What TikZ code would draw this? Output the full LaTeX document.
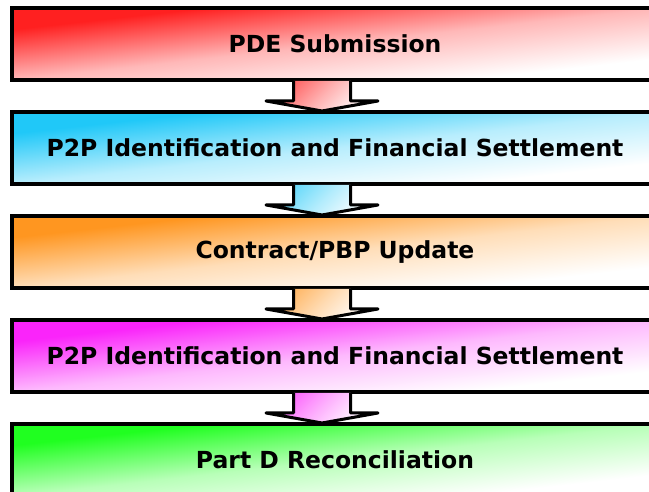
\documentclass[tikz,border=0pt]{standalone}
\usepackage{fontspec}
\newfontfamily\stagefont{DejaVu Sans}
\usetikzlibrary{calc,positioning,backgrounds}

\definecolor{pdered}{RGB}{255,32,32}
\definecolor{ppablue}{RGB}{32,200,248}
\definecolor{pbporange}{RGB}{255,150,32}
\definecolor{ppbmagenta}{RGB}{250,36,250}
\definecolor{recongreen}{RGB}{32,255,32}

\tikzset{
  stage/.style={draw=black, line width=4pt, minimum width=646pt, minimum height=72pt,
    inner sep=0pt, font=\stagefont\bfseries\fontsize{23.5}{28}\selectfont},
  stagefill/.style={shading=axis, top color=#1, bottom color=white,
    middle color=#1!32!white, shading angle=45},
  flow/.style={draw=black, line width=3pt, line join=round,
    shading=axis, top color=#1!75!white, bottom color=white,
    middle color=#1!35!white, shading angle=45},
}

\begin{document}
\begin{tikzpicture}[x=1pt, y=1pt, node distance=28pt]
    \useasboundingbox (0,0) rectangle (649,492);
    % Trin i processen
    \node[stage] (pde) at (335,448) {PDE Submission};
    \node[stage, below=of pde] (ppa) {P2P Identification and Financial Settlement};
    \node[stage, below=of ppa] (pbp) {Contract/PBP Update};
    \node[stage, below=of pbp] (ppb) {P2P Identification and Financial Settlement};
    \node[stage, below=of ppb] (recon) {Part D Reconciliation};
    % Farveforloeb bag trinene (strakt diagonalt)
    \begin{scope}[on background layer]
      \foreach \n/\col in {pde/pdered,ppa/ppablue,pbp/pbporange,ppb/ppbmagenta,recon/recongreen} {
        \begin{scope}[transform canvas={shift={(\n.center)}, xscale=646/72}]
          \shade[stagefill=\col] (-36,-36) rectangle (36,36);
        \end{scope}
      }
    \end{scope}
    % Blokpile mellem trinene
    \foreach \a/\b/\col in {pde/ppa/pdered,ppa/pbp/ppablue,pbp/ppb/pbporange,ppb/recon/ppbmagenta} {
      \shadedraw[flow=\col]
        ($(\a.south)+(-41.5,1)$) -- ($(\a.south)+(-41.5,-19)$) -- ($(\a.south)+(-69,-19)$)
        -- ($(\b.north)+(-13,-1)$)
        -- ($(\a.south)+(43,-19)$) -- ($(\a.south)+(15.5,-19)$) -- ($(\a.south)+(15.5,1)$);
    }
\end{tikzpicture}
\end{document}
